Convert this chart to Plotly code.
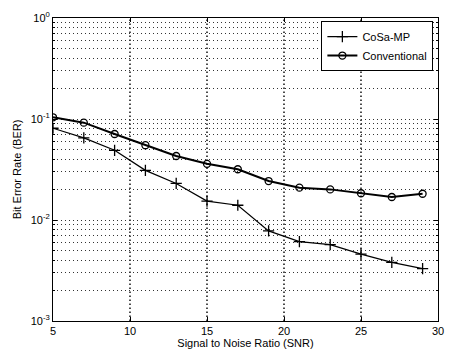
import plotly.graph_objects as go

snr = [5, 7, 9, 11, 13, 15, 17, 19, 21, 23, 25, 27, 29]
ber_cosamp = [0.081, 0.065, 0.049, 0.031, 0.023, 0.0154, 0.0140, 0.0078, 0.0061, 0.0057, 0.0046, 0.0038, 0.0033]
ber_conv = [0.104, 0.092, 0.071, 0.055, 0.043, 0.036, 0.0318, 0.0243, 0.0209, 0.0201, 0.0184, 0.0169, 0.0182]

x_ticks = [5, 10, 15, 20, 25, 30]
y_ticks = [1e-3, 1e-2, 1e-1, 1]
y_ticktext = ["10<sup>-3</sup>", "10<sup>-2</sup>", "10<sup>-1</sup>", "10<sup>0</sup>"]

font = dict(family="Liberation Sans, Arial", size=11, color="black")
grid_dash = "1px,3px"

fig = go.Figure()

# vertical dotted grid lines at the x tick values
for xv in x_ticks[1:-1]:
    fig.add_shape(type="line", xref="x", yref="paper", x0=xv, x1=xv, y0=0, y1=1,
                  line=dict(color="black", width=1.4, dash="1.5px,2.5px"), layer="below")

fig.add_trace(go.Scatter(
    x=snr, y=ber_cosamp, name="CoSa-MP", mode="lines+markers",
    line=dict(color="black", width=1.2),
    marker=dict(symbol="cross-thin", size=8, line=dict(color="black", width=1.3)),
))
fig.add_trace(go.Scatter(
    x=snr, y=ber_conv, name="Conventional", mode="lines+markers",
    line=dict(color="black", width=2),
    marker=dict(symbol="circle-open", size=7, color="black", line=dict(color="black", width=1.3)),
))

fig.update_xaxes(
    range=[5, 30], tickmode="array", tickvals=x_ticks,
    showline=True, linecolor="black", linewidth=1, mirror="ticks",
    ticks="inside", ticklen=4, tickcolor="black",
    showgrid=False,
    zeroline=False, tickfont=font, automargin=False,
    title=dict(text="Signal to Noise Ratio (SNR)", font=font, standoff=7),
)
fig.update_yaxes(
    type="log", range=[-3, 0], tickmode="array", tickvals=y_ticks, ticktext=y_ticktext,
    showline=True, linecolor="black", linewidth=1, mirror="allticks",
    ticks="inside", ticklen=4, tickcolor="black",
    showgrid=True, gridcolor="#333333", gridwidth=1, griddash=grid_dash,
    zeroline=False, tickfont=font, automargin=False,
    title=dict(text="Bit Error Rate (BER)", font=font, standoff=6),
    minor=dict(dtick="D1", showgrid=True, gridcolor="#333333", gridwidth=1, griddash=grid_dash,
               ticks="inside", ticklen=2, tickcolor="black"),
)

fig.update_layout(
    width=452, height=349,
    margin=dict(l=53, r=14, t=18, b=28),
    paper_bgcolor="white", plot_bgcolor="white",
    font=font,
    legend=dict(
        x=0.988, y=0.99, xanchor="right", yanchor="top",
        bgcolor="white", bordercolor="black", borderwidth=1,
        font=font, itemwidth=30, tracegroupgap=0,
    ),
)

fig.write_html("out.html")
